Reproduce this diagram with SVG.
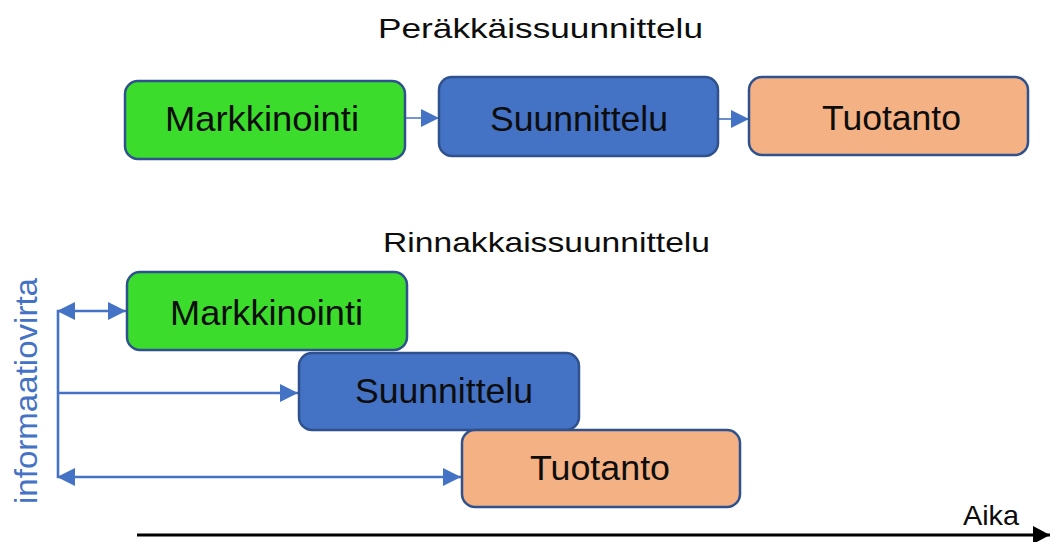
<svg xmlns="http://www.w3.org/2000/svg" width="1050" height="542" viewBox="0 0 1050 542">
  <style>
    .box { stroke: #2F528F; stroke-width: 2.5; }
    .green { fill: #3CDC2C; }
    .blue { fill: #4472C4; }
    .orange { fill: #F4B183; }
    .lbl { font-family: "Liberation Sans", Arial, sans-serif; font-size: 35px; fill: #0d0d0d; }
    .title { font-family: "Liberation Sans", Arial, sans-serif; font-size: 28px; fill: #0d0d0d; }
    .flow { stroke: #4472C4; fill: none; }
  </style>
  <defs>
    <marker id="head" markerUnits="userSpaceOnUse" markerWidth="18" markerHeight="18" refX="18" refY="9" orient="auto-start-reverse">
      <path d="M0,0 L18,9 L0,18 z" fill="#4472C4"/>
    </marker>
    <marker id="timehead" markerUnits="userSpaceOnUse" markerWidth="17" markerHeight="18" refX="17" refY="9" orient="auto">
      <path d="M0,0 L17,9 L0,18 z" fill="#000"/>
    </marker>
  </defs>

  <rect width="1050" height="542" fill="#fff"/>

  <!-- Section titles -->
  <text class="title" x="378" y="38" textLength="325" lengthAdjust="spacingAndGlyphs">Peräkkäissuunnittelu</text>
  <text class="title" x="383" y="252" textLength="327" lengthAdjust="spacingAndGlyphs">Rinnakkaissuunnittelu</text>

  <!-- Connectors -->
  <g id="connectors">
    <line class="flow" x1="405" y1="118" x2="439" y2="118" stroke-width="1.6" marker-end="url(#head)"/>
    <line class="flow" x1="718" y1="119" x2="749" y2="119" stroke-width="1.6" marker-end="url(#head)"/>
    <line class="flow" x1="58" y1="310" x2="58" y2="478" stroke-width="2.6"/>
    <line class="flow" x1="57" y1="311" x2="126" y2="311" stroke-width="2.6" marker-start="url(#head)" marker-end="url(#head)"/>
    <line class="flow" x1="58" y1="393" x2="298" y2="393" stroke-width="2.6" marker-end="url(#head)"/>
    <line class="flow" x1="57" y1="477" x2="461" y2="477" stroke-width="2.6" marker-start="url(#head)" marker-end="url(#head)"/>
    <line x1="137" y1="535" x2="1050" y2="535" stroke="#000" stroke-width="3" marker-end="url(#timehead)"/>
  </g>

  <!-- Sequential design -->
  <g id="seq-markkinointi">
    <rect class="box green" x="125" y="81" width="280" height="78" rx="13"/>
    <text class="lbl" x="165" y="131" textLength="194" lengthAdjust="spacingAndGlyphs">Markkinointi</text>
  </g>
  <g id="seq-suunnittelu">
    <rect class="box blue" x="439" y="77" width="279" height="79" rx="13"/>
    <text class="lbl" x="490" y="131" textLength="178" lengthAdjust="spacingAndGlyphs">Suunnittelu</text>
  </g>
  <g id="seq-tuotanto">
    <rect class="box orange" x="749" y="77" width="279" height="78" rx="13"/>
    <text class="lbl" x="822" y="130" textLength="139" lengthAdjust="spacingAndGlyphs">Tuotanto</text>
  </g>

  <!-- Concurrent design -->
  <g id="par-markkinointi">
    <rect class="box green" x="127" y="272" width="280" height="78" rx="13"/>
    <text class="lbl" x="170" y="325" textLength="193" lengthAdjust="spacingAndGlyphs">Markkinointi</text>
  </g>
  <g id="par-suunnittelu">
    <rect class="box blue" x="299" y="353" width="280" height="77" rx="13"/>
    <text class="lbl" x="355" y="403" textLength="178" lengthAdjust="spacingAndGlyphs">Suunnittelu</text>
  </g>
  <g id="par-tuotanto">
    <rect class="box orange" x="462" y="430" width="278" height="77" rx="13"/>
    <text class="lbl" x="530" y="480" textLength="140" lengthAdjust="spacingAndGlyphs">Tuotanto</text>
  </g>

  <!-- Information flow label and time axis label -->
  <text x="37" y="391" transform="rotate(-90 37 391)" text-anchor="middle" font-family="'Liberation Sans', Arial, sans-serif" font-size="32" fill="#4472C4" textLength="226" lengthAdjust="spacingAndGlyphs">informaatiovirta</text>
  <text class="title" x="963" y="525" textLength="56" lengthAdjust="spacingAndGlyphs">Aika</text>
</svg>
